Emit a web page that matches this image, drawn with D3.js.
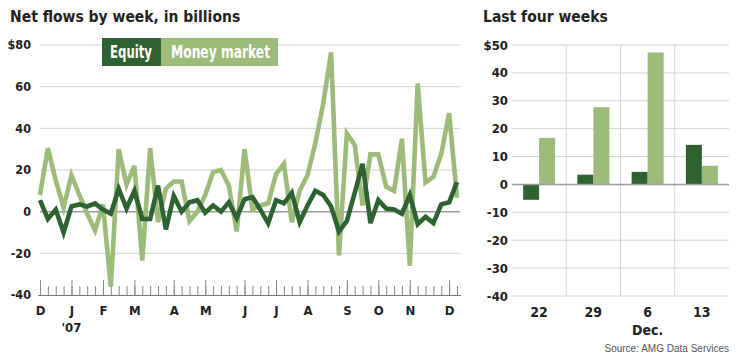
<!DOCTYPE html>
<html><head><meta charset="utf-8">
<script src="https://cdn.jsdelivr.net/npm/d3@7"></script>
<style>
body{margin:0;background:#fff;}
svg{display:block;}
</style></head>
<body>
<svg id="c" width="740" height="360"></svg>
<script>
// ---------- data ----------
const weekStart = new Date(2006, 11, 7);   // first weekly report (Thursday)
const weekEnd = new Date(2007, 11, 14);    // exclusive
const equity = [5.5, -3.5, 1, -10, 2.5, 3.5, 2.5, 4, 1, -1, 11, 1.5, 10, -3.5, -3.5, 12.5, -8.5, 7.5, 0, 4.5,
  5.5, -0.5, 3, 0, 4.5, -3, 6, 7, 1, -5.5, 5.5, 4, 9, -5, 3, 10, 8, 2.5, -9.5, -4.5,
  9, 23, -5.5, 5.5, 1.5, 1, -1, 8, -6, -2.5, -5.5, 3.5, 4.5, 14.2];
const moneyMarket = [8, 30.5, 15, 2, 17.5, 8, -1, -9, 3.5, -36, 30, 13, 22, -23.5, 30.5, -5, 11, 14.5, 14.5, -4.5,
  0, 8, 19, 20, 12.5, -9.5, 30, 1, 3, 4, 18, 23, -5, 10, 17.5, 33, 52, 76.5, -21, 37.5,
  32, 3, 27.5, 27.5, 12, 10, 35, -26, 61.5, 14, 16.7, 27.7, 47.3, 6.7];
const monthLabels = ["D", "J", "F", "M", "A", "M", "J", "J", "A", "S", "O", "N", "D"];
const leftYTicks = [-40, -20, 0, 20, 40, 60, 80];
const recentWeeks = ["22", "29", "6", "13"];
const recentEquity = [-5.5, 3.5, 4.5, 14.2];
const recentMoney = [16.7, 27.7, 47.3, 6.7];
const rightYTicks = [-40, -30, -20, -10, 0, 10, 20, 30, 40, 50];
const seriesNames = ["Equity", "Money market"];

// ---------- style ----------
const FONT = "'DejaVu Sans Condensed','Liberation Sans Narrow','Roboto Condensed','Arial Narrow',sans-serif";
const DARK = "#2f6232";
const LIGHT = "#9dbb79";
const GRID = "#d4d4d4";
const ZERO = "#9a9a9a";
const INK = "#222";

const svg = d3.select("#c").style("font-family", FONT);
const weeks = d3.timeThursday.range(weekStart, weekEnd);

// ---------- left chart ----------
const x = d3.scaleTime().domain([weeks[0], weeks[weeks.length - 1]]).range([40, 457]);
const y = d3.scaleLinear().domain([-40, 80]).range([295, 45]);

svg.append("text").attr("x", 10).attr("y", 22).text("Net flows by week, in billions")
  .attr("font-size", 15.5).attr("font-weight", "bold").attr("fill", INK);

const gl = svg.append("g");
gl.selectAll("line.grid").data(leftYTicks.filter(d => d > -40)).join("line")
  .attr("x1", 40).attr("x2", 460).attr("y1", d => y(d)).attr("y2", d => y(d))
  .attr("stroke", d => d === 0 ? ZERO : GRID).attr("stroke-width", d => d === 0 ? 1.5 : 1);

gl.selectAll("text.yl").data(leftYTicks).join("text")
  .attr("x", 31).attr("y", d => y(d)).attr("dy", "0.35em").attr("text-anchor", "end")
  .attr("font-size", 12.5).attr("font-weight", "bold").attr("fill", INK)
  .text(d => d === 80 ? "$80" : d);

// x axis: weekly ticks + month ticks
const majors = weeks.filter((w, i) => i === 0 || w.getMonth() !== weeks[i - 1].getMonth());
const minorAxis = d3.axisBottom(x).tickValues(weeks).tickSize(-9).tickFormat("");
const majorAxis = d3.axisBottom(x).tickValues(majors).tickSize(-15).tickPadding(11)
  .tickFormat((d, i) => monthLabels[i]);
const gMinor = gl.append("g").attr("transform", "translate(0,295)").call(minorAxis);
gMinor.select(".domain").attr("d", "M38,0.5H461").attr("stroke", "#777");
gMinor.selectAll(".tick line").attr("stroke", "#888");
const gMajor = gl.append("g").attr("transform", "translate(0,295)").call(majorAxis);
gMajor.select(".domain").remove();
gMajor.selectAll(".tick line").attr("stroke", "#888");
gMajor.selectAll(".tick text").attr("font-size", 13).attr("font-weight", "bold").attr("fill", INK)
  .attr("font-family", FONT);
gl.append("text").attr("x", x(majors[1])).attr("y", 332).attr("text-anchor", "middle")
  .attr("font-size", 13).attr("font-weight", "bold").attr("fill", INK).text("'07");

const line = d3.line().x((d, i) => x(weeks[i])).y(d => y(d));
gl.append("path").datum(moneyMarket).attr("d", line).attr("fill", "none")
  .attr("stroke", LIGHT).attr("stroke-width", 4.6);
gl.append("path").datum(equity).attr("d", line).attr("fill", "none")
  .attr("stroke", DARK).attr("stroke-width", 4.6);

// legend
const leg = svg.append("g");
leg.append("rect").attr("x", 102).attr("y", 38).attr("width", 59).attr("height", 28).attr("fill", DARK);
leg.append("rect").attr("x", 161).attr("y", 38).attr("width", 117).attr("height", 28).attr("fill", LIGHT);
leg.append("text").attr("x", 110).attr("y", 58).attr("fill", "#fff")
  .attr("font-size", 17).attr("font-weight", "bold")
  .attr("textLength", 42).attr("lengthAdjust", "spacingAndGlyphs").text(seriesNames[0]);
leg.append("text").attr("x", 171).attr("y", 58).attr("fill", "#fff")
  .attr("font-size", 17).attr("font-weight", "bold")
  .attr("textLength", 99).attr("lengthAdjust", "spacingAndGlyphs").text(seriesNames[1]);

// ---------- right chart ----------
svg.append("text").attr("x", 483).attr("y", 22).text("Last four weeks")
  .attr("font-size", 15.5).attr("font-weight", "bold").attr("fill", INK);

const xb = d3.scaleBand().domain(recentWeeks).range([512, 729]);
const xs = d3.scaleBand().domain(seriesNames).range([xb.bandwidth() / 2 - 16, xb.bandwidth() / 2 + 16]);
const yb = d3.scaleLinear().domain([-40, 50]).range([296, 45]);

const gr = svg.append("g");
gr.selectAll("line.grid").data(rightYTicks.filter(d => d !== 0)).join("line")
  .attr("x1", 512).attr("x2", 729).attr("y1", d => yb(d)).attr("y2", d => yb(d))
  .attr("stroke", GRID);
gr.selectAll("line.sep").data(recentWeeks.slice(1)).join("line")
  .attr("x1", d => xb(d)).attr("x2", d => xb(d)).attr("y1", yb(50)).attr("y2", yb(-40))
  .attr("stroke", GRID);
gr.selectAll("text.yl").data(rightYTicks).join("text")
  .attr("x", 508).attr("y", d => yb(d)).attr("dy", "0.35em").attr("text-anchor", "end")
  .attr("font-size", 13).attr("font-weight", "bold").attr("fill", INK)
  .text(d => d === 50 ? "$50" : d);

const barData = recentWeeks.flatMap((w, i) => [
  {w, s: seriesNames[0], v: recentEquity[i], c: DARK},
  {w, s: seriesNames[1], v: recentMoney[i], c: LIGHT}]);
gr.selectAll("rect.bar").data(barData).join("rect")
  .attr("x", d => xb(d.w) + xs(d.s)).attr("width", xs.bandwidth())
  .attr("y", d => yb(Math.max(0, d.v))).attr("height", d => Math.abs(yb(d.v) - yb(0)))
  .attr("fill", d => d.c);
gr.append("line").attr("x1", 512).attr("x2", 729).attr("y1", yb(0)).attr("y2", yb(0))
  .attr("stroke", ZERO).attr("stroke-width", 1.5);

const xbAxis = d3.axisBottom(xb).tickSize(0).tickPadding(11);
const gxb = gr.append("g").attr("transform", "translate(0,296)").call(xbAxis);
gxb.select(".domain").remove();
gxb.selectAll(".tick text").attr("font-size", 14).attr("font-weight", "bold").attr("fill", INK)
  .attr("font-family", FONT);
gr.append("text").attr("x", xb("6") + xb.bandwidth() / 2).attr("y", 335).attr("text-anchor", "middle")
  .attr("font-size", 14).attr("font-weight", "bold").attr("fill", INK).text("Dec.");

svg.append("text").attr("x", 729).attr("y", 352).attr("text-anchor", "end")
  .attr("font-size", 10).attr("fill", "#555").attr("font-family", "'Liberation Sans',Arial,sans-serif")
  .text("Source: AMG Data Services");
</script>
</body></html>
